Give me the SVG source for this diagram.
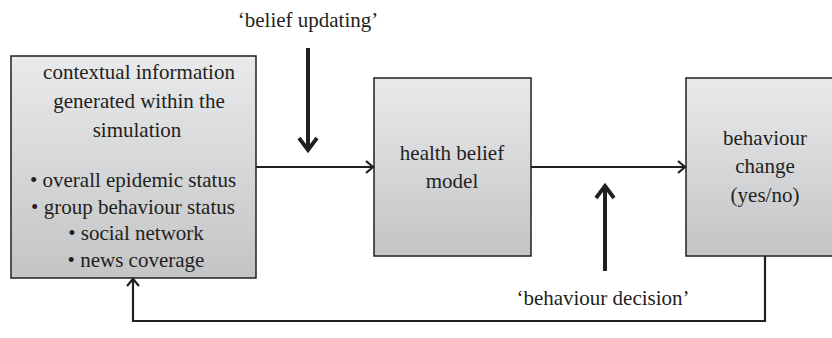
<svg xmlns="http://www.w3.org/2000/svg" width="832" height="338" viewBox="0 0 832 338">
<defs>
<linearGradient id="g" x1="0" y1="0" x2="0" y2="1">
<stop offset="0" stop-color="#e9eaeb"/>
<stop offset="1" stop-color="#c3c4c6"/>
</linearGradient>
<marker id="ah" markerUnits="userSpaceOnUse" viewBox="-10 -8 12 16" refX="0" refY="0" markerWidth="12" markerHeight="16" orient="auto" overflow="visible">
<path d="M-7 -6L0 0L-7 6" fill="none" stroke="#231f20" stroke-width="2.2"/>
</marker>
<marker id="ahb" markerUnits="userSpaceOnUse" viewBox="-16 -12 18 24" refX="0" refY="0" markerWidth="18" markerHeight="24" orient="auto" overflow="visible">
<path d="M-13 -9L-1 0L-13 9" fill="none" stroke="#231f20" stroke-width="3.8"/>
</marker>
</defs>
<g fill="url(#g)" stroke="#231f20" stroke-width="1.5">
<rect id="context-box" x="11" y="56" width="245" height="222"/>
<rect id="hbm-box" x="374" y="78" width="157" height="178"/>
<rect id="change-box" x="686" y="78" width="160" height="178"/>
</g>
<g font-family="'Liberation Serif', Tinos, 'Times New Roman', serif" font-size="21" fill="#231f20" text-anchor="middle">
<g id="context">
<text x="139" y="79">contextual information</text>
<text x="139" y="108">generated within the</text>
<text x="137" y="137">simulation</text>
<text x="133" y="187">&#8226; overall epidemic status</text>
<text x="133" y="214">&#8226; group behaviour status</text>
<text x="136" y="240">&#8226; social network</text>
<text x="136" y="267">&#8226; news coverage</text>
</g>
<g id="hbm">
<text x="452" y="160">health belief</text>
<text x="452" y="188">model</text>
</g>
<g id="change">
<text x="765" y="145">behaviour</text>
<text x="765" y="173">change</text>
<text x="765" y="202">(yes/no)</text>
</g>
<g id="labels">
<text x="308" y="27">&#8216;belief updating&#8217;</text>
<text x="603" y="305">&#8216;behaviour decision&#8217;</text>
</g>
</g>
<g id="connectors" fill="none" stroke="#231f20">
<path stroke-width="2.2" d="M256 167H373" marker-end="url(#ah)"/>
<path stroke-width="2.2" d="M531 167H685" marker-end="url(#ah)"/>
<path stroke-width="4" d="M308 48V151" marker-end="url(#ahb)"/>
<path stroke-width="4" d="M605 271V185" marker-end="url(#ahb)"/>
<path stroke-width="2.2" d="M765 256V321H133V279" marker-end="url(#ah)"/>
</g>
</svg>
